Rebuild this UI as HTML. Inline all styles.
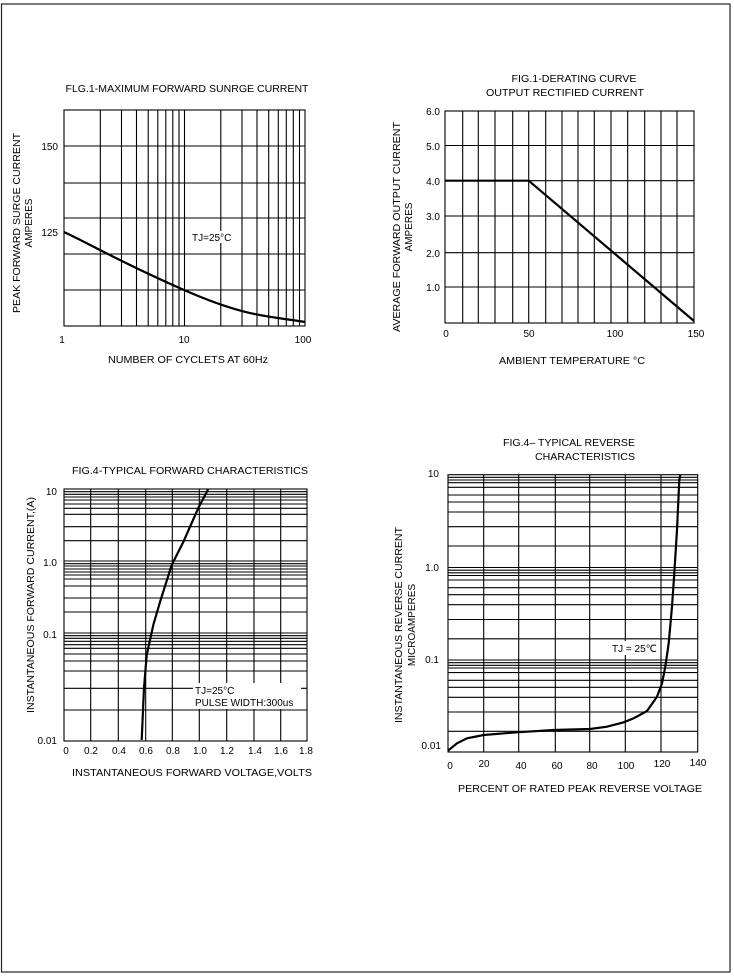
<!DOCTYPE html>
<html><head><meta charset="utf-8"><style>
html,body{margin:0;padding:0;background:#fff;}
svg{display:block;}
text{font-family:"Liberation Sans",Arial,sans-serif;font-size:10px;fill:#000;}
</style></head><body>
<svg width="734" height="976" viewBox="0 0 734 976" xmlns="http://www.w3.org/2000/svg">
<rect x="1.5" y="4" width="728.5" height="968" fill="none" stroke="#222" stroke-width="1.2"/>

<!-- Chart 1 -->
<g stroke="#000" stroke-width="1.1" fill="none">
<rect x="64" y="110" width="241" height="216"/>
<path d="M64 146H305M64 183H305M64 218H305M64 254H305M64 290H305"/>
<path d="M100.3 110V326M121.5 110V326M136.5 110V326M148.2 110V326M157.8 110V326M165.8 110V326M172.8 110V326M179 110V326M184.5 110V326M220.8 110V326M242 110V326M257 110V326M268.7 110V326M278.3 110V326M286.3 110V326M293.3 110V326M299.5 110V326"/>
<path d="M64 232 C 90 244, 120 262, 184 290 S 270 316, 305 322" stroke-width="2.2"/>
</g>
<text x="187" y="92" text-anchor="middle" textLength="243" lengthAdjust="spacingAndGlyphs">FLG.1-MAXIMUM FORWARD SUNRGE CURRENT</text>
<rect x="188" y="231" width="42" height="12" fill="#fff"/>
<text x="192" y="241" font-size="8.5">TJ=25°C</text>
<text x="58" y="150" text-anchor="end">150</text>
<text x="58" y="236" text-anchor="end">125</text>
<text x="62" y="343" text-anchor="middle">1</text>
<text x="184" y="343" text-anchor="middle">10</text>
<text x="303" y="343" text-anchor="middle">100</text>
<text x="188" y="363" text-anchor="middle" textLength="160" lengthAdjust="spacingAndGlyphs">NUMBER OF CYCLETS AT 60Hz</text>
<text transform="translate(20,223) rotate(-90)" text-anchor="middle" textLength="180" lengthAdjust="spacingAndGlyphs">PEAK FORWARD SURGE CURRENT</text>
<text transform="translate(32,223) rotate(-90)" text-anchor="middle">AMPERES</text>

<!-- Chart 2 -->
<g stroke="#000" stroke-width="1.1" fill="none">
<rect x="445" y="111" width="249" height="212"/>
<path d="M445 145.5H694M445 180.7H694M445 216H694M445 252.7H694M445 287H694"/>
<path d="M462.7 111V323M478.3 111V323M495 111V323M512.7 111V323M528.7 111V323M545.7 111V323M562 111V323M578 111V323M594.3 111V323M611 111V323M627.7 111V323M644.7 111V323M661 111V323M677 111V323"/>
<path d="M445 180.7H528.7L694 321" stroke-width="2.2"/>
</g>
<text x="574" y="82" text-anchor="middle" textLength="125" lengthAdjust="spacingAndGlyphs">FIG.1-DERATING CURVE</text>
<text x="565" y="96" text-anchor="middle" textLength="158" lengthAdjust="spacingAndGlyphs">OUTPUT RECTIFIED CURRENT</text>
<text x="440" y="115" text-anchor="end">6.0</text>
<text x="440" y="150" text-anchor="end">5.0</text>
<text x="440" y="185" text-anchor="end">4.0</text>
<text x="440" y="220" text-anchor="end">3.0</text>
<text x="440" y="257" text-anchor="end">2.0</text>
<text x="440" y="291" text-anchor="end">1.0</text>
<text x="446" y="337" text-anchor="middle">0</text>
<text x="529" y="337" text-anchor="middle">50</text>
<text x="615" y="337" text-anchor="middle">100</text>
<text x="696" y="337" text-anchor="middle">150</text>
<text x="572" y="364" text-anchor="middle" textLength="146" lengthAdjust="spacingAndGlyphs">AMBIENT TEMPERATURE °C</text>
<text transform="translate(400,227) rotate(-90)" text-anchor="middle" textLength="210" lengthAdjust="spacingAndGlyphs">AVERAGE FORWARD OUTPUT CURRENT</text>
<text transform="translate(412,227) rotate(-90)" text-anchor="middle">AMPERES</text>

<!-- Chart 3 -->
<g stroke="#000" stroke-width="1.1" fill="none">
<rect x="64" y="489" width="243" height="252"/>
<path d="M64 491.7H307M64 494.3H307M64 497H307M64 500H307M64 504H307M64 508.3H307M64 514.3H307M64 526.7H307M64 540.7H307M64 561H307
M64 563.7H307M64 566H307M64 569H307M64 572H307M64 575H307M64 579H307M64 586H307M64 598H307M64 612H307M64 633H307
M64 635.7H307M64 638.3H307M64 641.3H307M64 644.7H307M64 648.3H307M64 654H307M64 661H307M64 671H307M64 688.3H307M64 710H307"/>
<path d="M90.7 489V741M118.3 489V741M145.7 489V741M172.3 489V741M199.3 489V741M226.7 489V741M254 489V741M280.7 489V741"/>
</g>
<rect x="193" y="683" width="108" height="26" fill="#fff"/>
<path d="M141.7 740 L144 688 L146.7 655 L153.3 625 L160 602 L171.7 565 L183.3 542 L198.3 508 L208.3 489" stroke="#000" stroke-width="2.2" fill="none"/>
<text x="195" y="694" font-size="8.5">TJ=25°C</text>
<text x="195" y="706" font-size="8.5">PULSE WIDTH:300us</text>
<text x="190" y="474" text-anchor="middle" textLength="236" lengthAdjust="spacingAndGlyphs">FIG.4-TYPICAL FORWARD CHARACTERISTICS</text>
<text x="57" y="495" text-anchor="end">10</text>
<text x="57" y="566" text-anchor="end">1.0</text>
<text x="57" y="638" text-anchor="end">0.1</text>
<text x="57" y="744" text-anchor="end">0.01</text>
<text x="66" y="754" text-anchor="middle">0</text>
<text x="91" y="754" text-anchor="middle">0.2</text>
<text x="119" y="754" text-anchor="middle">0.4</text>
<text x="146" y="754" text-anchor="middle">0.6</text>
<text x="173" y="754" text-anchor="middle">0.8</text>
<text x="200" y="754" text-anchor="middle">1.0</text>
<text x="227" y="754" text-anchor="middle">1.2</text>
<text x="255" y="754" text-anchor="middle">1.4</text>
<text x="281" y="754" text-anchor="middle">1.6</text>
<text x="306" y="754" text-anchor="middle">1.8</text>
<text x="192" y="776" text-anchor="middle" textLength="240" lengthAdjust="spacingAndGlyphs">INSTANTANEOUS FORWARD VOLTAGE,VOLTS</text>
<text transform="translate(34,605) rotate(-90)" text-anchor="middle" textLength="216" lengthAdjust="spacingAndGlyphs">INSTANTANEOUS FORWARD CURRENT,(A)</text>

<!-- Chart 4 -->
<g stroke="#000" stroke-width="1.1" fill="none">
<rect x="448" y="474.7" width="249.7" height="277.3"/>
<path d="M448 477.3H697.7M448 480H697.7M448 482.7H697.7M448 487.3H697.7M448 495H697.7M448 502H697.7M448 512H697.7M448 526.7H697.7M448 546H697.7M448 567.5H697.7
M448 570.2H697.7M448 572.8H697.7M448 575.5H697.7M448 580H697.7M448 587.7H697.7M448 594.7H697.7M448 604.7H697.7M448 619.5H697.7M448 638.8H697.7M448 660H697.7
M448 662.7H697.7M448 665.3H697.7M448 668H697.7M448 672.6H697.7M448 680.3H697.7M448 687.3H697.7M448 697.3H697.7M448 712H697.7M448 731.3H697.7"/>
<path d="M483.7 474.7V752M518.7 474.7V752M555.3 474.7V752M589.7 474.7V752M625.3 474.7V752M661 474.7V752"/>
</g>
<rect x="608" y="641" width="48" height="14" fill="#fff"/>
<text x="612" y="652" font-size="8.5">TJ = 25℃</text>
<path d="M448 750.7 L457 743.3 L467 738.3 L483.7 735 L517 732.3 L553.7 730 L590 729 L607 726.7 L623.7 722.3 L633.7 718.3 L647 711 L657 696.7 L662 683.3 L665.3 666.7 L668.7 643.3 L672 606.7 L674.3 573.3 L677 530 L679.3 480 L680.3 474.7" stroke="#000" stroke-width="2.2" fill="none"/>
<text x="569" y="446" text-anchor="middle" textLength="132" lengthAdjust="spacingAndGlyphs">FIG.4– TYPICAL REVERSE</text>
<text x="585" y="460" text-anchor="middle" textLength="100" lengthAdjust="spacingAndGlyphs">CHARACTERISTICS</text>
<text x="439" y="477" text-anchor="end">10</text>
<text x="439" y="571" text-anchor="end">1.0</text>
<text x="439" y="663" text-anchor="end">0.1</text>
<text x="441" y="749" text-anchor="end">0.01</text>
<text x="450" y="769" text-anchor="middle">0</text>
<text x="484" y="767" text-anchor="middle">20</text>
<text x="521" y="769" text-anchor="middle">40</text>
<text x="557" y="769" text-anchor="middle">60</text>
<text x="592" y="769" text-anchor="middle">80</text>
<text x="626" y="769" text-anchor="middle">100</text>
<text x="662" y="767" text-anchor="middle">120</text>
<text x="698" y="766" text-anchor="middle">140</text>
<text x="580" y="792" text-anchor="middle" textLength="244" lengthAdjust="spacingAndGlyphs">PERCENT OF RATED PEAK REVERSE VOLTAGE</text>
<text transform="translate(402,625) rotate(-90)" text-anchor="middle" textLength="196" lengthAdjust="spacingAndGlyphs">INSTANTANEOUS REVERSE CURRENT</text>
<text transform="translate(415,625) rotate(-90)" text-anchor="middle">MICROAMPERES</text>
</svg>
</body></html>
